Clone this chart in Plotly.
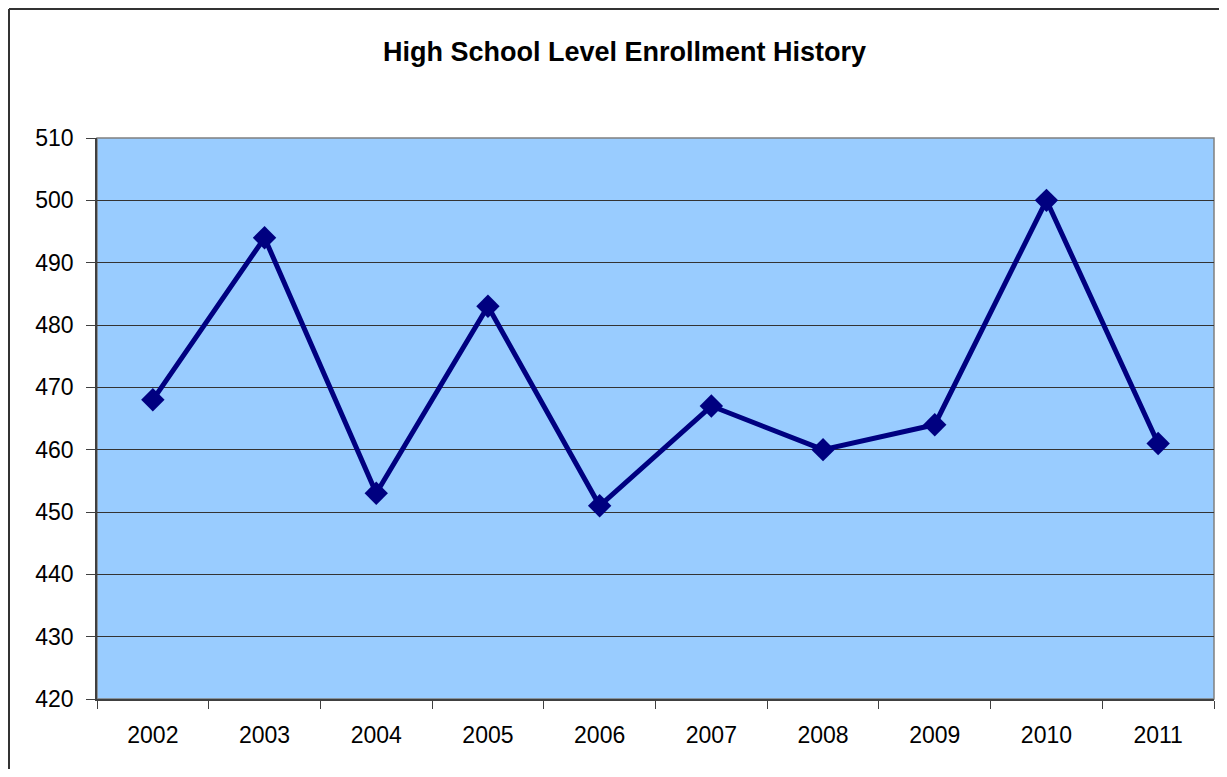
import plotly.graph_objects as go

# data
years = ["2002", "2003", "2004", "2005", "2006", "2007", "2008", "2009", "2010", "2011"]
enrollment = [468, 494, 453, 483, 451, 467, 460, 464, 500, 461]
y_ticks = [420, 430, 440, 450, 460, 470, 480, 490, 500, 510]

# page has an 8px body margin, so the figure is drawn 8px smaller on each side
W, H = 1211, 761
L, R, T, B = 89, 5, 130, 70
pw, ph = W - L - R, H - T - B

fig = go.Figure()

fig.add_trace(go.Scatter(
    x=years, y=enrollment,
    mode="lines+markers",
    line=dict(color="#000080", width=5),
    marker=dict(symbol="diamond", size=18, color="#000080"),
    cliponaxis=False,
))

# outer chart border (only top and left visible, image is cropped)
bx = (1 - L) / pw
by = 1 + (T - 1) / ph
fig.add_shape(type="line", xref="paper", yref="paper", x0=bx, x1=1.2, y0=by, y1=by,
              line=dict(color="#333333", width=2), layer="above")
fig.add_shape(type="line", xref="paper", yref="paper", x0=bx, x1=bx, y0=by, y1=-0.3,
              line=dict(color="#333333", width=2), layer="above")
# plot area border
fig.add_shape(type="rect", xref="paper", yref="paper", x0=0, x1=1, y0=0, y1=1,
              line=dict(color="#808080", width=1.5), layer="below")

fig.update_layout(
    width=W, height=H,
    margin=dict(l=L, r=R, t=T, b=B),
    paper_bgcolor="white",
    plot_bgcolor="#99CCFF",
    showlegend=False,
    font=dict(family="Liberation Sans, Arial", size=23, color="black"),
    title=dict(text="<b>High School Level Enrollment History</b>",
               x=616.5 / W, xanchor="center", y=1 - 44 / H, yanchor="middle",
               font=dict(size=27, color="black")),
)

fig.update_xaxes(
    type="category", categoryorder="array", categoryarray=years,
    range=[-0.5, len(years) - 0.5],
    tickson="boundaries", ticks="outside", ticklen=8, tickcolor="#404040",
    showline=True, linecolor="#404040", linewidth=1.5,
    showgrid=False, ticklabelstandoff=15,
)
fig.update_yaxes(
    range=[420, 510], tickvals=y_ticks,
    ticks="outside", ticklen=9, tickcolor="#404040",
    showline=True, linecolor="#404040", linewidth=1.5,
    showgrid=True, gridcolor="#333333", gridwidth=1,
    zeroline=False, ticklabelstandoff=8,
)

fig.write_html("out.html")
